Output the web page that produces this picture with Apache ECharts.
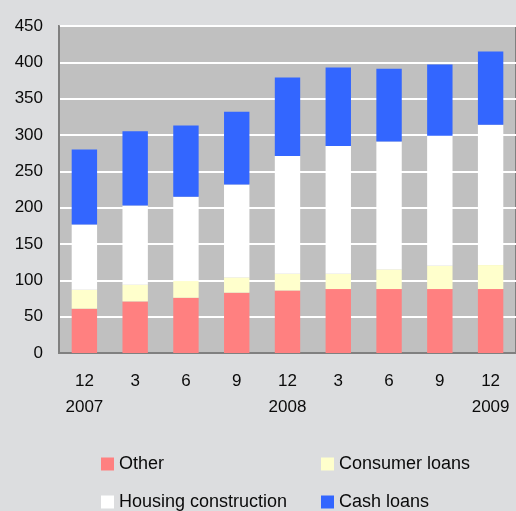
<!DOCTYPE html>
<html>
<head>
<meta charset="utf-8">
<script src="https://cdn.jsdelivr.net/npm/echarts@6/dist/echarts.min.js"></script>
<style>
  html, body { margin: 0; padding: 0; background: #DCDDDF; }
  #chart { width: 516px; height: 511px; }
</style>
</head>
<body>
<div id="chart"></div>
<script>
// Quarter-end months and the year shown beneath the December columns
const months = ['12', '3', '6', '9', '12', '3', '6', '9', '12'];
const years  = ['2007', '', '', '', '2008', '', '', '', '2009'];

// Stacked loan stock by purpose
const other        = [61, 71, 76, 83, 86, 88, 88, 88, 88];
const consumer     = [26, 23, 23, 21, 23, 21, 27, 32, 33];
const housing      = [90, 109, 116, 128, 162, 176, 176, 179, 193];
const cash         = [103, 102, 98, 100, 108, 108, 100, 98, 101];

const yTicks = { min: 0, max: 450, interval: 50 };

const font = 'Liberation Sans, Arial, sans-serif';
const textColor = '#0A0A0A';
const categories = months.map((m, i) => m + '\n' + years[i]);

function stackSeries(name, data, color) {
  return {
    name: name,
    type: 'bar',
    stack: 'total',
    data: data,
    barWidth: '50%',
    itemStyle: { color: color },
    emphasis: { disabled: true }
  };
}

const chart = echarts.init(document.getElementById('chart'), null, { renderer: 'canvas' });
chart.setOption({
  backgroundColor: '#DCDDDF',
  animation: false,
  grid: {
    left: 59,
    top: 26,
    width: 459,
    height: 327,
    show: true,
    backgroundColor: '#C0C0C0',
    borderColor: '#808080',
    borderWidth: 2
  },
  xAxis: {
    type: 'category',
    data: categories,
    axisLine: { show: true, lineStyle: { color: '#808080', width: 2 } },
    axisTick: { show: false },
    axisLabel: {
      color: textColor,
      fontFamily: font,
      fontSize: 17,
      lineHeight: 26,
      margin: 15,
      interval: 0
    }
  },
  yAxis: {
    type: 'value',
    min: yTicks.min,
    max: yTicks.max,
    interval: yTicks.interval,
    axisLine: { show: true, lineStyle: { color: '#808080', width: 2 } },
    axisTick: { show: false },
    splitLine: { show: true, lineStyle: { color: '#FFFFFF', width: 2 } },
    axisLabel: {
      color: textColor,
      fontFamily: font,
      fontSize: 17,
      margin: 16
    }
  },
  legend: {
    left: 101,
    top: 454,
    width: 460,
    padding: 0,
    itemWidth: 13,
    itemHeight: 13,
    itemGap: 18,
    icon: 'rect',
    selectedMode: false,
    textStyle: {
      color: textColor,
      fontFamily: font,
      fontSize: 18,
      lineHeight: 20,
      width: 184
    },
    data: ['Other', 'Consumer loans', 'Housing construction', 'Cash loans']
  },
  series: [
    stackSeries('Other', other, '#FF8080'),
    stackSeries('Consumer loans', consumer, '#FFFFCC'),
    stackSeries('Housing construction', housing, '#FFFFFF'),
    stackSeries('Cash loans', cash, '#3366FF')
  ]
});
</script>
</body>
</html>
